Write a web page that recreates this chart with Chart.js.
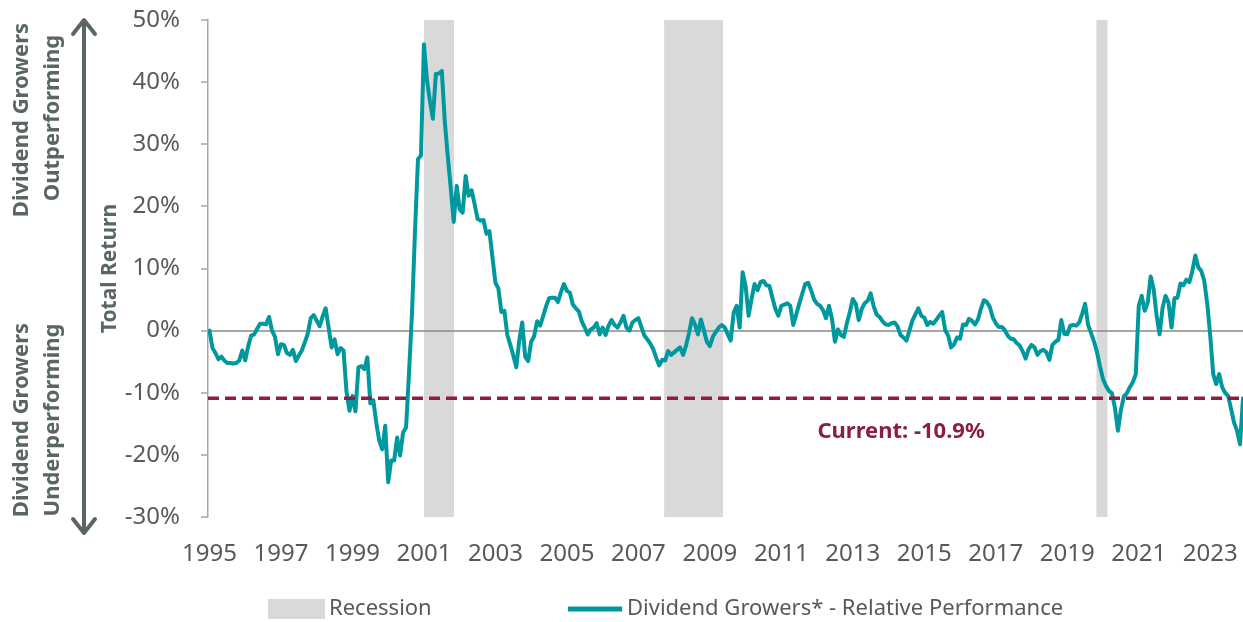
<!DOCTYPE html>
<html><head><meta charset="utf-8">
<script src="https://cdn.jsdelivr.net/npm/chart.js@4.4.1/dist/chart.umd.min.js"></script>
<style>html,body{margin:0;padding:0;background:#fff}#wrap{width:1243px;height:622px;position:relative}</style>
</head><body><div id="wrap"><canvas id="c" width="1243" height="622"></canvas></div>
<script>
// ---- data (monthly, Jan 1995 - Dec 2023), relative total return in % ----
const START_YEAR = 1995;
const V1995 = [0, -2.8, -3.6, -4.6, -4.2, -4.8, -5.2, -5.2, -5.3, -5.2, -4.8, -3.2];
const V1996 = [-4.8, -2.5, -0.8, -0.6, 0.3, 1.1, 1.1, 1.0, 2.2, 0.0, -1.0, -3.8];
const V1997 = [-2.2, -2.3, -3.6, -3.9, -3.1, -4.9, -4.0, -3.2, -1.9, -0.5, 2.0, 2.5];
const V1998 = [1.6, 0.7, 2.3, 3.6, 0.5, -2.7, -1.4, -3.8, -2.8, -3.2, -9.8, -12.9];
const V1999 = [-10.5, -13.0, -5.9, -5.7, -6.2, -4.3, -11.7, -11.2, -14.8, -17.7, -19.1, -15.3];
const V2000 = [-24.4, -20.9, -20.9, -17.2, -20.1, -16.4, -15.6, -6.7, 2.9, 16.0, 27.6, 28.2];
const V2001 = [46.1, 40.4, 37.0, 34.1, 41.3, 41.4, 41.8, 33.7, 28.1, 23.0, 17.5, 23.3];
const V2002 = [19.5, 19.0, 24.9, 21.7, 22.6, 20.4, 18.0, 17.7, 17.8, 15.6, 16.0, 11.8];
const V2003 = [7.7, 6.8, 3.0, 3.2, -0.7, -2.3, -4.0, -5.9, -1.6, 1.3, -4.2, -4.9];
const V2004 = [-1.8, -0.9, 1.5, 0.8, 2.3, 3.9, 5.2, 5.3, 5.3, 4.6, 6.2, 7.5];
const V2005 = [6.4, 6.1, 4.2, 3.6, 3.1, 1.5, 0.5, -0.6, 0.2, 0.5, 1.2, -0.6];
const V2006 = [0.5, -0.7, 0.8, 1.7, 0.9, 0.5, 1.3, 2.4, 0.5, 0.0, 1.3, 1.7];
const V2007 = [2.0, 0.6, -0.8, -1.4, -2.1, -3.0, -4.4, -5.6, -4.7, -4.8, -3.3, -3.9];
const V2008 = [-3.5, -3.1, -2.7, -3.9, -2.4, -0.4, 2.0, 1.0, -0.6, 1.8, 0.0, -1.8];
const V2009 = [-2.5, -1.0, -0.2, 0.5, 0.9, 0.5, -0.6, -1.6, 2.9, 4.0, 0.5, 9.4];
const V2010 = [7.2, 2.4, 5.1, 7.5, 6.5, 7.8, 8.0, 7.3, 7.2, 5.3, 3.5, 2.4];
const V2011 = [4.0, 4.2, 4.4, 4.0, 0.9, 2.6, 4.3, 5.9, 7.5, 7.7, 6.5, 5.0];
const V2012 = [4.3, 4.0, 3.3, 2.0, 4.0, 1.9, -1.8, 0.2, -0.7, -1.0, 1.2, 3.0];
const V2013 = [5.1, 4.3, 1.7, 3.5, 4.4, 4.8, 6.0, 3.9, 2.6, 2.2, 1.5, 1.0];
const V2014 = [0.9, 1.2, 1.3, 0.7, -0.7, -1.1, -1.6, 0.0, 1.6, 2.6, 3.6, 2.4];
const V2015 = [2.1, 0.9, 1.4, 1.1, 1.7, 2.4, 3.0, 0.1, -0.8, -2.7, -2.2, -1.1];
const V2016 = [-1.3, 1.0, 0.9, 1.9, 1.6, 1.0, 1.8, 3.5, 4.9, 4.6, 3.8, 2.1];
const V2017 = [1.2, 0.6, 0.6, 0.1, -0.8, -1.3, -1.4, -2.0, -2.4, -3.3, -4.5, -3.0];
const V2018 = [-2.3, -2.7, -3.9, -3.3, -3.1, -3.5, -4.7, -2.3, -1.8, -1.5, 1.7, -0.5];
const V2019 = [-0.6, 0.8, 0.9, 0.8, 1.3, 2.7, 4.3, 0.9, -0.4, -1.8, -3.5, -5.8];
const V2020 = [-7.8, -8.9, -9.7, -10.1, -12.4, -16.1, -12.8, -10.6, -10.1, -9.1, -8.3, -7.0];
const V2021 = [4.0, 5.6, 3.2, 4.5, 8.7, 6.7, 2.4, -0.6, 3.7, 5.6, 4.5, 0.5];
const V2022 = [5.2, 5.3, 7.6, 7.3, 8.2, 7.8, 9.6, 12.1, 10.2, 9.6, 8.0, 4.3];
const V2023 = [-0.8, -7.0, -8.6, -7.0, -9.1, -10.0, -10.5, -12.6, -14.8, -16.1, -18.3, -10.9];

const REC_START = [2001.0, 2007.72, 2019.81];   // recession shading, fractional years
const REC_END   = [2001.84, 2009.37, 2020.13];
const CURRENT = -10.9;
const TICK_YEARS = [1995,1997,1999,2001,2003,2005,2007,2009,2011,2013,2015,2017,2019,2021,2023];
const Y_TICKS = [-30,-20,-10,0,10,20,30,40,50];
const SERIES_LABEL = 'Dividend Growers* - Relative Performance';
const REC_LABEL = 'Recession';
const Y_TITLE = 'Total Return';
const SIDE_TOP = ['Dividend Growers', 'Outperforming'];
const SIDE_BOTTOM = ['Dividend Growers', 'Underperforming'];

// ---- build ----
const VALUES = [].concat(V1995,V1996,V1997,V1998,V1999,V2000,V2001,V2002,V2003,V2004,V2005,V2006,
  V2007,V2008,V2009,V2010,V2011,V2012,V2013,V2014,V2015,V2016,V2017,V2018,V2019,V2020,V2021,V2022,V2023);
const series = VALUES.map((v,i)=>({x: START_YEAR + i/12, y: v}));
const X_MIN = START_YEAR - 0.5/12;
const X_MAX = START_YEAR + (VALUES.length-1)/12;

const FONT = '"Noto Sans", "Open Sans", sans-serif';
const TEAL = '#00989f';
const MAROON = '#8a1f43';
const GREY_TXT = '#595959';
const SIDE_COL = '#5a6662';
const BAND = 'rgba(140,140,140,0.33)';
const BAND_SOLID = '#d9d9d9';

const datasets = [];
datasets.push({label: SERIES_LABEL, data: series, borderColor: TEAL, borderWidth: 4,
  pointRadius: 0, tension: 0, borderJoinStyle: 'round', borderCapStyle: 'round', fill: false, order: 1});
datasets.push({label: 'current', data: [{x: X_MIN, y: CURRENT}, {x: X_MAX, y: CURRENT}],
  borderColor: MAROON, borderWidth: 3.5, borderDash: [11, 6], pointRadius: 0, fill: false, order: 0});
REC_START.forEach((s, i) => {
  datasets.push({label: REC_LABEL, data: [{x: s, y: 50}, {x: REC_END[i], y: 50}],
    borderWidth: 0, borderColor: 'rgba(0,0,0,0)', backgroundColor: BAND, pointRadius: 0,
    fill: {value: -30}, order: 5});
});

const annot = {
  id: 'annot',
  afterDraw(chart) {
    const ctx = chart.ctx;
    const xs = chart.scales.x, ys = chart.scales.y;
    ctx.save();
    // current label
    ctx.fillStyle = MAROON;
    ctx.font = 'bold 22px ' + FONT;
    ctx.textAlign = 'center'; ctx.textBaseline = 'middle';
    ctx.fillText('Current: ' + CURRENT.toFixed(1) + '%', xs.getPixelForValue(2014.35), ys.getPixelForValue(CURRENT) + 33);

    // side labels
    ctx.fillStyle = SIDE_COL;
    ctx.font = 'bold 22px ' + FONT;
    const vtext = (t, cx, cy) => { ctx.save(); ctx.translate(cx, cy); ctx.rotate(-Math.PI/2); ctx.fillText(t, 0, 0); ctx.restore(); };
    vtext(SIDE_TOP[0], 22, 120); vtext(SIDE_TOP[1], 53, 118);
    vtext(SIDE_BOTTOM[0], 22, 420); vtext(SIDE_BOTTOM[1], 53, 420);

    // arrow
    ctx.strokeStyle = SIDE_COL; ctx.lineWidth = 4; ctx.lineCap = 'round'; ctx.lineJoin = 'round';
    const ax = 84, top = 20, bot = 533;
    ctx.beginPath(); ctx.moveTo(ax, top + 2); ctx.lineTo(ax, bot - 2); ctx.stroke();
    ctx.beginPath(); ctx.moveTo(ax - 11, top + 14); ctx.lineTo(ax, top); ctx.lineTo(ax + 11, top + 14); ctx.stroke();
    ctx.beginPath(); ctx.moveTo(ax - 11, bot - 14); ctx.lineTo(ax, bot); ctx.lineTo(ax + 11, bot - 14); ctx.stroke();

    // legend
    const ly = 609;
    ctx.fillStyle = BAND_SOLID; ctx.fillRect(268, ly - 10, 57, 20);
    ctx.fillStyle = GREY_TXT; ctx.font = '22px ' + FONT; ctx.textAlign = 'left'; ctx.textBaseline = 'middle';
    ctx.fillText(REC_LABEL, 329, ly);
    ctx.strokeStyle = TEAL; ctx.lineWidth = 5; ctx.lineCap = 'butt';
    ctx.beginPath(); ctx.moveTo(568, ly); ctx.lineTo(622, ly); ctx.stroke();
    ctx.fillText(SERIES_LABEL, 627, ly);
    ctx.restore();
  }
};

new Chart(document.getElementById('c'), {
  type: 'line',
  data: {datasets},
  plugins: [annot],
  options: {
    responsive: false, animation: false, devicePixelRatio: 1,
    layout: {padding: {left: 97, right: 0, top: 20, bottom: 39}},
    plugins: {legend: {display: false}, tooltip: {enabled: false}},
    scales: {
      x: {
        type: 'linear', min: X_MIN, max: X_MAX,
        grid: {display: false, drawTicks: false}, border: {display: false},
        afterBuildTicks: s => { s.ticks = TICK_YEARS.map(v => ({value: v})); },
        ticks: {autoSkip: false, maxRotation: 0, padding: 23, color: GREY_TXT,
          font: {family: FONT, size: 24}, callback: v => String(v)},
        afterFit: s => { s.height = 66; s.paddingLeft = 0; s.paddingRight = 0; }
      },
      y: {
        min: -30, max: 50,
        afterBuildTicks: s => { s.ticks = Y_TICKS.map(v => ({value: v})); },
        ticks: {padding: 21, color: GREY_TXT, font: {family: FONT, size: 24}, callback: v => v + '%'},
        grid: {color: c => (c.tick && c.tick.value === 0) ? '#a6a6a6' : 'rgba(0,0,0,0)', lineWidth: 2,
          tickColor: '#a6a6a6', tickWidth: 1.5, tickLength: 7, drawTicks: true},
        border: {display: true, color: '#a6a6a6', width: 1.5},
        title: {display: true, text: Y_TITLE, color: SIDE_COL, font: {family: FONT, size: 21, weight: 'bold'}, padding: {top: 0, bottom: 0}},
        afterFit: s => { s.width = 208 - 97; s.paddingTop = 0; s.paddingBottom = 0; }
      }
    }
  }
});
</script></body></html>
